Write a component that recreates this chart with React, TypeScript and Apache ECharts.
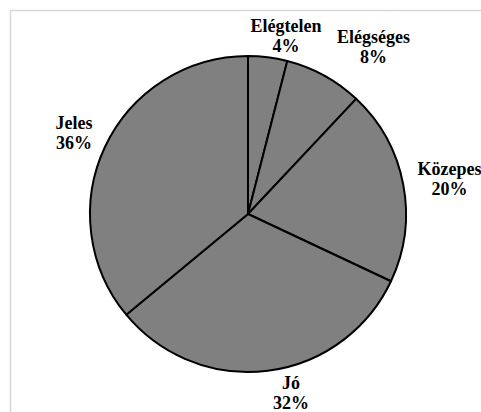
import React, { useEffect, useRef } from "react";
import * as echarts from "echarts";

const categories = ["Elégtelen", "Elégséges", "Közepes", "Jó", "Jeles"];
const percents = [4, 8, 20, 32, 36];

// label anchor positions (px)
const labelPositions: [number, number][] = [
  [286, 36],
  [373.5, 47],
  [449.5, 179],
  [291, 393],
  [74, 133],
];

export default function App() {
  const ref = useRef<HTMLDivElement>(null);
  useEffect(() => {
    if (!ref.current) return;
    const chart = echarts.init(ref.current, null, { renderer: "svg" });
    chart.setOption({
      animation: false,
      backgroundColor: "#ffffff",
      textStyle: { fontFamily: "Liberation Serif" },
      graphic: [
        {
          type: "rect",
          z: -10,
          shape: { x: 10.5, y: 10.5, width: 600, height: 600 },
          style: { fill: "none", stroke: "#d9d9d9", lineWidth: 1.5 },
        },
      ],
      series: [
        {
          type: "pie",
          center: [248, 214],
          radius: 158,
          startAngle: 90,
          clockwise: true,
          avoidLabelOverlap: false,
          itemStyle: { color: "#808080", borderColor: "#000000", borderWidth: 2 },
          label: {
            show: true,
            position: "outside",
            formatter: (p: any) => `${p.name}\n${p.value}%`,
            fontFamily: "Liberation Serif",
            fontWeight: "bold",
            fontSize: 18,
            lineHeight: 20,
            color: "#000000",
            align: "center",
          },
          labelLine: { show: false },
          labelLayout: (params: any) => {
            const pos = labelPositions[params.dataIndex];
            return { x: pos[0], y: pos[1], align: "center", verticalAlign: "middle" };
          },
          emphasis: { disabled: true },
          data: categories.map((c, i) => ({ name: c, value: percents[i] })),
        },
      ],
    });
    return () => chart.dispose();
  }, []);
  return (
    <div
      ref={ref}
      style={{ position: "fixed", left: 0, top: 0, width: 481, height: 412 }}
    />
  );
}
